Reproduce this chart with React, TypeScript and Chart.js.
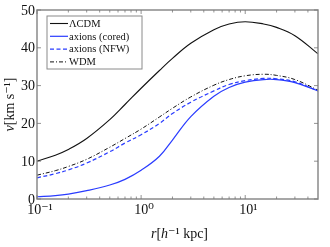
import React, { useEffect, useRef } from "react";
import { Chart, registerables } from "chart.js";

Chart.register(...registerables);

const radii = [0.1, 0.15, 0.2, 0.3, 0.5, 0.7, 1, 1.5, 2, 3, 5, 7, 10, 15, 20, 30, 50];
const lcdm = [10, 11.6, 13.1, 16, 21, 25, 29.3, 34, 37.2, 41.2, 44.8, 46.3, 46.9, 46.3, 45.4, 43.2, 38.4];
const axionsCored = [0.6, 0.9, 1.3, 2.2, 3.7, 5.2, 7.6, 11.3, 15.6, 21.8, 27.2, 29.5, 30.9, 31.6, 31.6, 30.8, 28.6];
const axionsNFW = [5.6, 6.7, 7.7, 9.5, 12.5, 14.8, 17, 20, 22.6, 25.6, 28.6, 30.3, 31.3, 31.9, 31.8, 31, 28.6];
const wdm = [6.3, 7.5, 8.6, 10.5, 13.7, 16, 18.5, 21.7, 24, 27, 30.1, 31.6, 32.6, 33, 32.7, 31.6, 28.8];

const seriesNames = ["\u039BCDM", "axions (cored)", "axions (NFW)", "WDM"];
const yTicks = [0, 10, 20, 30, 40, 50];
const xMajor = [0.1, 1, 10];
const xMajorLabels = ["10\u207B\u00B9", "10\u2070", "10\u00B9"];
const xMinor = [0.2, 0.3, 0.4, 0.5, 0.6, 0.7, 0.8, 0.9, 2, 3, 4, 5, 6, 7, 8, 9, 20, 30, 40];

const SERIF = "'Liberation Serif', 'DejaVu Serif', serif";

const pts = (ys: number[]) => radii.map((x, i) => ({ x, y: ys[i] }));

const decor = {
  id: "decor",
  afterDraw(chart: any) {
    const { ctx, chartArea: a, scales } = chart;
    const xs = scales.x;
    const ys = scales.y;
    ctx.save();
    // frame
    ctx.strokeStyle = "#8a8a8a";
    ctx.lineWidth = 1.5;
    ctx.strokeRect(a.left, a.top, a.right - a.left, a.bottom - a.top);
    // ticks
    ctx.strokeStyle = "#777";
    ctx.lineWidth = 0.8;
    ctx.beginPath();
    const vt = (v: number, len: number) => {
      const px = xs.getPixelForValue(v);
      ctx.moveTo(px, a.bottom);
      ctx.lineTo(px, a.bottom - len);
      ctx.moveTo(px, a.top);
      ctx.lineTo(px, a.top + len);
    };
    xMajor.forEach((v) => vt(v, 4));
    xMinor.forEach((v) => vt(v, 2.5));
    yTicks.forEach((v) => {
      const py = ys.getPixelForValue(v);
      ctx.moveTo(a.left, py);
      ctx.lineTo(a.left + 4, py);
      ctx.moveTo(a.right, py);
      ctx.lineTo(a.right - 4, py);
    });
    ctx.stroke();

    // tick labels
    ctx.fillStyle = "#111";
    ctx.font = `14px ${SERIF}`;
    ctx.textAlign = "right";
    ctx.textBaseline = "middle";
    yTicks.forEach((v) => {
      ctx.fillText(String(v), a.left - 2, ys.getPixelForValue(v) + 1);
    });
    ctx.textAlign = "center";
    ctx.textBaseline = "top";
    xMajor.forEach((v, i) => {
      ctx.fillText(xMajorLabels[i], xs.getPixelForValue(v) + 3, a.bottom + 4);
    });

    // axis titles
    const drawRuns = (runs: [string, string][], x: number, y: number) => {
      let w = 0;
      runs.forEach(([t, f]) => {
        ctx.font = f;
        w += ctx.measureText(t).width;
      });
      let cx = x - w / 2;
      ctx.textAlign = "left";
      runs.forEach(([t, f]) => {
        ctx.font = f;
        ctx.fillText(t, cx, y);
        cx += ctx.measureText(t).width;
      });
    };
    const it = `italic 14px ${SERIF}`;
    const rm = `14px ${SERIF}`;
    ctx.textBaseline = "alphabetic";
    drawRuns(
      [["r", it], ["[", rm], ["h", it], ["\u207B\u00B9 kpc]", rm]],
      (a.left + a.right) / 2 + 2,
      a.bottom + 39
    );
    ctx.save();
    ctx.translate(14, (a.top + a.bottom) / 2);
    ctx.rotate(-Math.PI / 2);
    drawRuns([["v", it], ["[km s\u207B\u00B9]", rm]], 0, 0);
    ctx.restore();

    // legend box
    const lx = 47, ly = 16, lw = 95, lh = 53;
    ctx.fillStyle = "#fff";
    ctx.fillRect(lx, ly, lw, lh);
    ctx.strokeStyle = "#8a8a8a";
    ctx.lineWidth = 1;
    ctx.strokeRect(lx, ly, lw, lh);
    const ds = chart.data.datasets;
    ctx.font = `10.5px ${SERIF}`;
    ctx.textBaseline = "middle";
    ctx.textAlign = "left";
    seriesNames.forEach((name, i) => {
      const yy = ly + 7.5 + i * 12.8;
      const d = ds[i];
      ctx.strokeStyle = d.borderColor;
      ctx.lineWidth = d.borderWidth;
      ctx.setLineDash(d.borderDash || []);
      ctx.beginPath();
      ctx.moveTo(lx + 3, yy);
      ctx.lineTo(lx + 21, yy);
      ctx.stroke();
      ctx.setLineDash([]);
      ctx.fillStyle = "#111";
      ctx.fillText(name, lx + 22, yy + 0.5);
    });
    ctx.restore();
  },
};

export default function App() {
  const ref = useRef<HTMLCanvasElement>(null);
  useEffect(() => {
    if (!ref.current) return;
    const chart = new Chart(ref.current, {
      type: "line",
      data: {
        datasets: [
          { label: seriesNames[0], data: pts(lcdm), borderColor: "#111", borderWidth: 1.1 },
          { label: seriesNames[1], data: pts(axionsCored), borderColor: "#2a3cff", borderWidth: 1.2 },
          { label: seriesNames[2], data: pts(axionsNFW), borderColor: "#2a3cff", borderWidth: 1.2, borderDash: [4, 2.5] },
          { label: seriesNames[3], data: pts(wdm), borderColor: "#111", borderWidth: 1, borderDash: [4, 2, 1, 2] },
        ] as any,
      },
      options: {
        animation: false,
        responsive: false,
        devicePixelRatio: 1,
        elements: {
          point: { radius: 0 },
          line: { tension: 0.4, fill: false },
        },
        layout: { padding: { top: 10, right: 12, left: 0, bottom: 0 } },
        plugins: { legend: { display: false }, tooltip: { enabled: false } },
        scales: {
          x: {
            type: "logarithmic",
            min: 0.1,
            max: 50,
            grid: { display: false },
            border: { display: false },
            ticks: { display: false },
            afterFit: (s: any) => { s.height = 48; },
          },
          y: {
            min: 0,
            max: 50,
            grid: { display: false },
            border: { display: false },
            ticks: { display: false },
            afterFit: (s: any) => { s.width = 37; },
          },
        },
      } as any,
      plugins: [decor],
    });
    return () => chart.destroy();
  }, []);
  return (
    <div style={{ position: "fixed", left: 0, top: 0, width: 330, height: 247, background: "#fff" }}>
      <canvas ref={ref} width={330} height={247} style={{ width: 330, height: 247 }} />
    </div>
  );
}
